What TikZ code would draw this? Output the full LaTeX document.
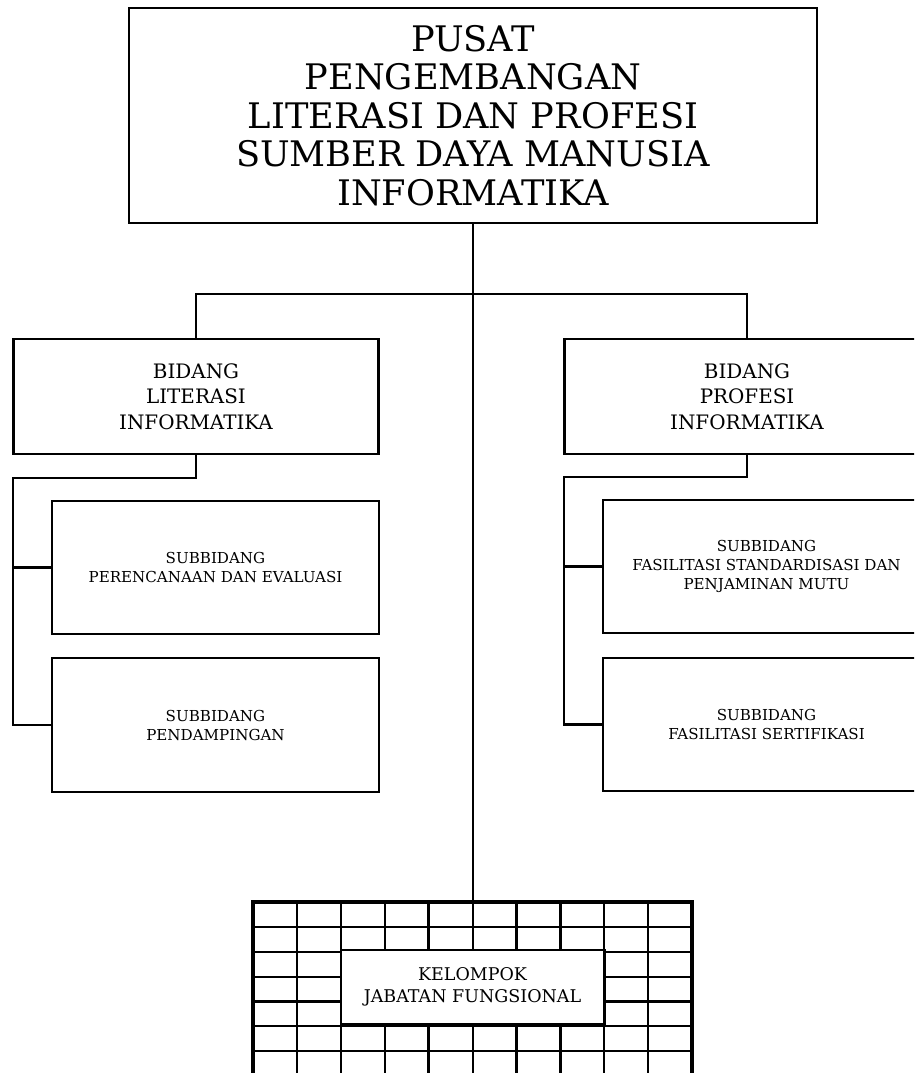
\documentclass[tikz,border=0pt]{standalone}
\usepackage{fontspec}
\setmainfont{DejaVu Serif}
\begin{document}
\begin{tikzpicture}[x=1pt,y=-1pt,
  box/.style={draw,line width=2.6pt,rectangle,align=center,inner sep=0pt,outer sep=0pt},
  conn/.style={line width=2.6pt},
  gridline/.style={line width=2.4pt},
  gridouter/.style={line width=3.5pt},
  toptext/.style={font=\fontsize{35.2}{38.5}\selectfont},
  bidtext/.style={font=\fontsize{19.9}{25.5}\selectfont},
  subtext/.style={font=\fontsize{15.1}{19}\selectfont},
  kjftext/.style={font=\fontsize{17.5}{22.5}\selectfont}]
\useasboundingbox (0,0) rectangle (914,1073);
\clip (0,0) rectangle (914,1073);
% top
\node[box,toptext,minimum width=688pt,minimum height=215pt] (top) at (473,115.5)
  {PUSAT\\PENGEMBANGAN\\LITERASI DAN PROFESI\\SUMBER DAYA MANUSIA\\INFORMATIKA};
% bidang
\node[box,bidtext,minimum width=365pt,minimum height=115pt] (bl) at (196,396.5)
  {BIDANG\\LITERASI\\INFORMATIKA};
\node[box,bidtext,minimum width=365pt,minimum height=115pt] (br) at (747,396.5)
  {BIDANG\\PROFESI\\INFORMATIKA};
% subbidang
\node[box,subtext,minimum width=327pt,minimum height=133pt] (sl1) at (215.5,567.5)
  {SUBBIDANG\\PERENCANAAN DAN EVALUASI};
\node[box,subtext,minimum width=327pt,minimum height=134pt] (sl2) at (215.5,725)
  {SUBBIDANG\\PENDAMPINGAN};
\node[box,subtext,minimum width=327pt,minimum height=133pt] (sr1) at (766.5,566.5)
  {SUBBIDANG\\FASILITASI STANDARDISASI DAN\\PENJAMINAN MUTU};
\node[box,subtext,minimum width=327pt,minimum height=133pt] (sr2) at (766.5,724.5)
  {SUBBIDANG\\FASILITASI SERTIFIKASI};
% kelompok grid
\coordinate (gridtop) at (473,902);
\foreach \x in {296.9,340.8,384.7,428.6,473,516.4,560.3,604.2,648.1}{
  \draw[gridline] (\x,902) -- (\x,952);
  \draw[gridline] (\x,1026) -- (\x,1080);}
\foreach \x in {296.9,648.1}{\draw[gridline] (\x,952) -- (\x,1026);}
\foreach \y in {927,952,1026,1051}{\draw[gridline] (253,\y) -- (692,\y);}
\foreach \y in {977,1001.5}{\draw[gridline] (253,\y) -- (340.8,\y);
  \draw[gridline] (604.2,\y) -- (692,\y);}
\node[box,kjftext,fill=white,minimum width=263.4pt,minimum height=74pt] (kjf) at (472.5,987)
  {KELOMPOK\\JABATAN FUNGSIONAL};
\draw[gridouter] (251.25,902) -- (693.75,902);
\draw[gridouter] (253,902) -- (253,1080);
\draw[gridouter] (692,902) -- (692,1080);
% connectors
\coordinate (bus) at (473,294);
\coordinate (lspine) at (13,478);
\coordinate (rspine) at (564,477);
\draw[conn] (top.south) -- (gridtop);
\draw[conn] (bl.north) |- (bus) -| (br.north);
\draw[conn] (bl.south) |- (lspine) |- (sl2.west);
\draw[conn] (sl1.west) -- (sl1.west -| lspine);
\draw[conn] (br.south) |- (rspine) |- (sr2.west);
\draw[conn] (sr1.west) -- (sr1.west -| rspine);
\end{tikzpicture}
\end{document}
